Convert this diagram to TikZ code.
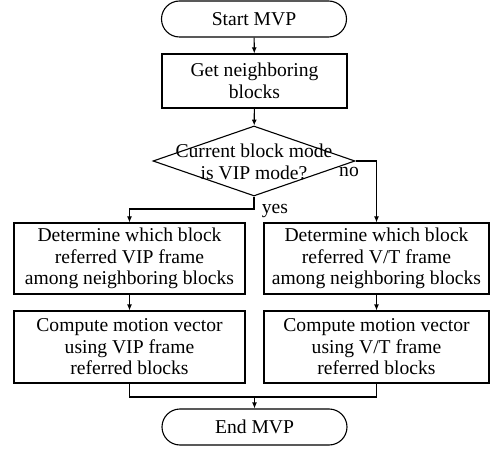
\documentclass[tikz,border=0pt]{standalone}
\usepackage{fontspec}
\setmainfont{Liberation Serif}
\usetikzlibrary{shapes.misc,shapes.geometric,arrows.meta}
\begin{document}
\begin{tikzpicture}[x=1pt, y=-1pt, line width=1.1pt, >={Latex[length=6pt,width=5pt]},
	font=\fontsize{19.6}{21.5}\selectfont,
	term/.style={draw, rounded rectangle, minimum width=185pt, minimum height=36pt, inner sep=0pt},
	proc/.style={draw, rectangle, align=center, minimum height=71pt, inner sep=0pt},
	decide/.style={draw, diamond, minimum width=202pt, minimum height=70pt, inner sep=0pt}]
	\useasboundingbox (0,0) rectangle (490,449);
	\def\wl{231pt}
	\def\wr{225pt}
	\node[term] (start) at (254,19) {Start MVP};
	\node[proc, minimum width=185pt, minimum height=54pt] (get) at (254.5,81) {Get neighboring\\blocks};
	\node[decide] (mode) at (254,161) {};
	\node[align=center] (modetext) at (254,162) {Current block mode\\is VIP mode?};
	\node[proc, minimum width=\wl] (detvip) at (129.5,258.5) {Determine which block\\referred VIP frame\\among neighboring blocks};
	\node[proc, minimum width=\wr] (detvt) at (376.5,258.5) {Determine which block\\referred V/T frame\\among neighboring blocks};
	\node[proc, minimum width=\wl, minimum height=72pt] (cmpvip) at (129.5,347) {Compute motion vector\\using VIP frame\\referred blocks};
	\node[proc, minimum width=\wr, minimum height=72pt] (cmpvt) at (376.5,347) {Compute motion vector\\using V/T frame\\referred blocks};
	\node[term] (end) at (254.5,427) {End MVP};
	\coordinate (yesturn) at (254,209);
	\coordinate (merge) at (254.5,397);
	\draw[->] (start) -- (get);
	\draw[->] (get) -- (mode);
	\draw[->] (mode.south) -- (yesturn) -| (detvip.north);
	\draw[->] (mode.east) -| (detvt.north);
	\draw[->] (detvip) -- (cmpvip);
	\draw[->] (detvt) -- (cmpvt);
	\draw (cmpvip.south) |- (merge) -| (cmpvt.south);
	\draw[->] (merge) -- (end);
	\node (yes) at (275,211) {yes};
	\node (no) at (349,172) {no};
\end{tikzpicture}
\end{document}
